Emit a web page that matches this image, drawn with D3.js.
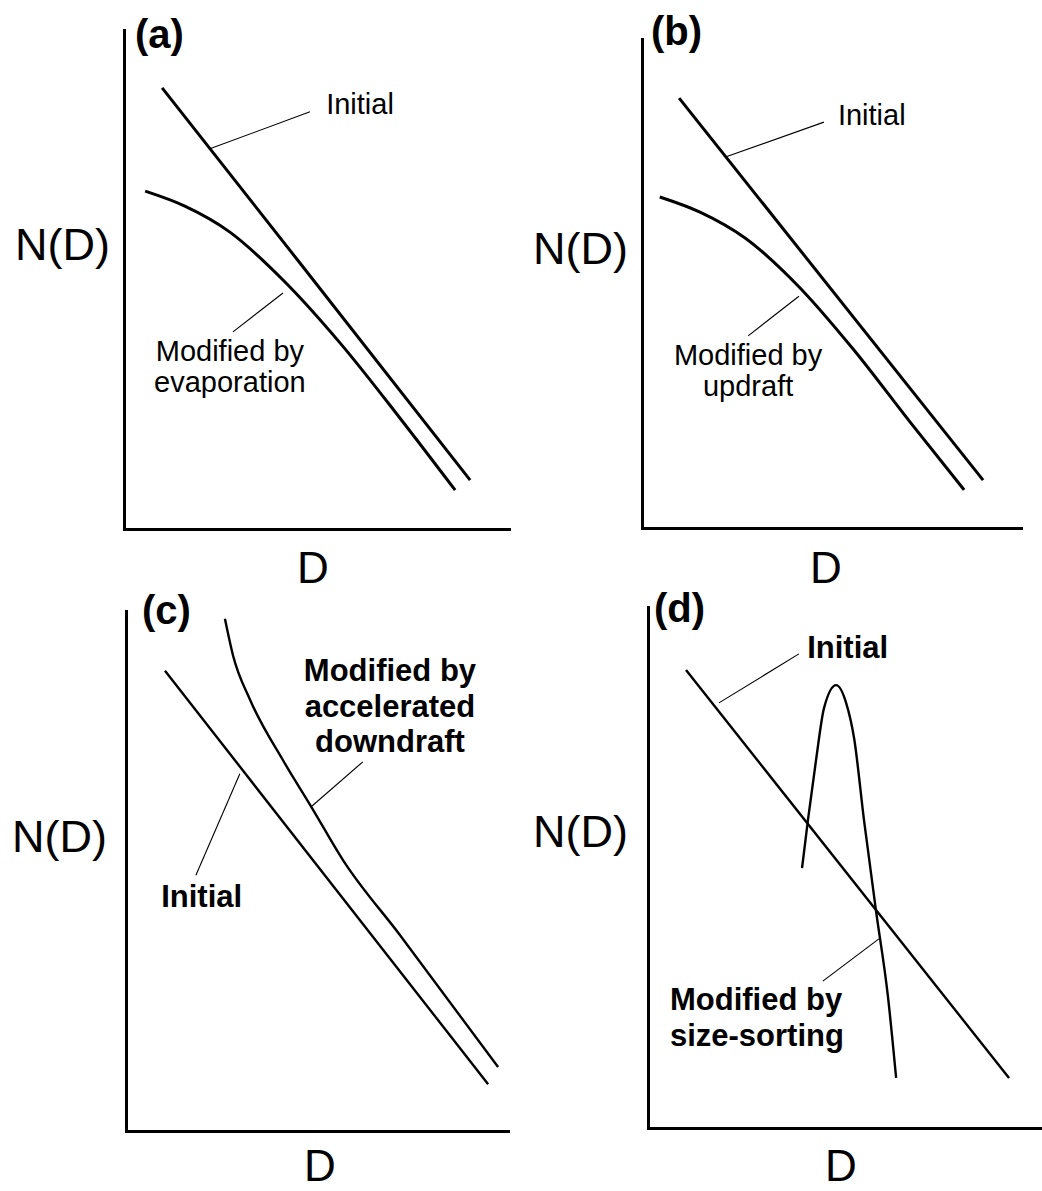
<!DOCTYPE html>
<html>
<head>
<meta charset="utf-8">
<script src="https://cdn.jsdelivr.net/npm/d3@7"></script>
<style>
  body { margin: 0; background: #fff; }
  text { font-family: "Liberation Sans", Arial, sans-serif; fill: #000; }
</style>
</head>
<body>
<svg id="chart" width="1042" height="1191"></svg>
<script>
// ---------- data (arbitrary units, D on x, N(D) on y, both 0..10) ----------
const panelLetters = ["(a)", "(b)", "(c)", "(d)"];
const yAxisLabel = "N(D)";
const xAxisLabel = "D";

// (a) evaporation
const initialA  = [[0.99,8.84],[4.57,5.33],[8.99,0.98]];
const modifiedA = [[0.55,6.77],[1.58,6.47],[2.75,5.95],[4.13,4.99],[5.61,3.73],[7.17,2.22],[8.60,0.78]];
// (b) updraft
const initialB  = [[0.98,8.79],[9.00,0.98]];
const modifiedB = [[0.47,6.77],[1.53,6.46],[2.72,5.93],[4.12,4.95],[5.57,3.66],[7.07,2.17],[8.50,0.78]];
// (c) accelerated downdraft
const initialC  = [[1.02,8.85],[9.48,0.90]];
const modifiedC = [[2.59,9.85],[2.80,9.15],[3.25,8.29],[4.11,7.13],[4.87,6.21],[5.68,5.21],[7.17,3.77],[9.74,1.23]];
// (d) size-sorting
const initialD  = [[0.97,8.79],[9.21,0.96]];
const modifiedD = [[3.93,4.99],[4.08,5.91],[4.29,7.08],[4.49,8.06],[4.80,8.50],[5.05,8.17],[5.26,7.47],[5.51,5.91],[5.82,4.15],[6.12,2.53],[6.33,0.96]];

// annotation texts
const labelsA = [["Initial"], ["Modified by", "evaporation"]];
const labelsB = [["Initial"], ["Modified by", "updraft"]];
const labelsC = [["Modified by", "accelerated", "downdraft"], ["Initial"]];
const labelsD = [["Initial"], ["Modified by", "size-sorting"]];

// annotation anchors (data units) and leader lines
const anchorsA = [[5.25,8.32],[2.75,3.37]];
const anchorsB = [[5.17,8.24],[2.80,3.33]];
const anchorsC = [[6.91,8.65],[0.92,4.31]];
const anchorsD = [[4.06,9.02],[0.56,2.26]];
const leadersA = [[[2.23,7.62],[4.83,8.36]], [[4.13,4.73],[2.83,3.95]]];
const leadersB = [[[2.22,7.59],[4.80,8.30]], [[4.14,4.74],[2.80,3.93]]];
const leadersC = [[[6.20,7.10],[4.87,6.25]], [[2.98,6.87],[1.83,4.92]]];
const leadersD = [[[1.81,8.16],[3.85,9.10]], [[5.89,3.63],[4.46,2.82]]];

// ---------- layout ----------
const panels = [
  { letter: panelLetters[0], frame: {x0:124, x1:509, y0:529, y1:30},
    series: [initialA, modifiedA], curveW: 3,
    labels: labelsA, anchors: anchorsA, aligns: ["start","middle"], leaders: leadersA,
    bold: false, fs: 29, lh: 31,
    letterPos: [135, 48], yLabPos: [15, 260], xLabPos: [313, 583] },
  { letter: panelLetters[1], frame: {x0:642, x1:1021, y0:528, y1:39},
    series: [initialB, modifiedB], curveW: 3,
    labels: labelsB, anchors: anchorsB, aligns: ["start","middle"], leaders: leadersB,
    bold: false, fs: 29, lh: 31,
    letterPos: [651, 45], yLabPos: [533, 264], xLabPos: [826, 583] },
  { letter: panelLetters[2], frame: {x0:126, x1:508, y0:1131, y1:611},
    series: [initialC, modifiedC], curveW: 2.4,
    labels: labelsC, anchors: anchorsC, aligns: ["middle","start"], leaders: leadersC,
    bold: true, fs: 31, lh: 35.5,
    letterPos: [142, 624], yLabPos: [12, 852], xLabPos: [320, 1181] },
  { letter: panelLetters[3], frame: {x0:648, x1:1040, y0:1128, y1:607},
    series: [initialD, modifiedD], curveW: 2.4,
    labels: labelsD, anchors: anchorsD, aligns: ["start","start"], leaders: leadersD,
    bold: true, fs: 31, lh: 36,
    letterPos: [654, 622], yLabPos: [533, 847], xLabPos: [841, 1181] }
];

const svg = d3.select("#chart");

panels.forEach(p => {
  const f = p.frame;
  const x = d3.scaleLinear().domain([0, 10]).range([f.x0, f.x1]);
  const y = d3.scaleLinear().domain([0, 10]).range([f.y0, f.y1]);
  const g = svg.append("g");

  // axes (no ticks)
  const xa = g.append("g").attr("transform", `translate(0,${f.y0})`)
    .call(d3.axisBottom(x).tickValues([]).tickSizeOuter(0));
  const ya = g.append("g").attr("transform", `translate(${f.x0},0)`)
    .call(d3.axisLeft(y).tickValues([]).tickSizeOuter(0));
  [xa, ya].forEach(a => a.select(".domain")
    .attr("stroke", "#000").attr("stroke-width", 3).attr("stroke-linecap", "square"));

  // curves
  const line = d3.line().x(d => x(d[0])).y(d => y(d[1])).curve(d3.curveMonotoneX);
  p.series.forEach(s => {
    g.append("path").datum(s).attr("d", line)
      .attr("fill", "none").attr("stroke", "#000")
      .attr("stroke-width", p.curveW).attr("stroke-linecap", "butt");
  });

  // leader lines
  p.leaders.forEach(l => {
    g.append("line")
      .attr("x1", x(l[0][0])).attr("y1", y(l[0][1]))
      .attr("x2", x(l[1][0])).attr("y2", y(l[1][1]))
      .attr("stroke", "#000").attr("stroke-width", 1.1);
  });

  // annotation texts
  p.labels.forEach((lines, i) => {
    const t = g.append("text")
      .attr("x", x(p.anchors[i][0])).attr("y", y(p.anchors[i][1]))
      .attr("text-anchor", p.aligns[i])
      .attr("font-size", p.fs)
      .attr("font-weight", p.bold ? "bold" : "normal");
    lines.forEach((ln, j) => {
      t.append("tspan").attr("x", x(p.anchors[i][0]))
        .attr("dy", j === 0 ? 0 : p.lh).text(ln);
    });
  });

  // panel letter
  g.append("text").attr("x", p.letterPos[0]).attr("y", p.letterPos[1])
    .attr("font-size", 40).attr("font-weight", "bold").text(p.letter);
  // axis titles
  g.append("text").attr("x", p.yLabPos[0]).attr("y", p.yLabPos[1])
    .attr("font-size", 45).text(yAxisLabel);
  g.append("text").attr("x", p.xLabPos[0]).attr("y", p.xLabPos[1])
    .attr("text-anchor", "middle").attr("font-size", 44).text(xAxisLabel);
});
</script>
</body>
</html>
